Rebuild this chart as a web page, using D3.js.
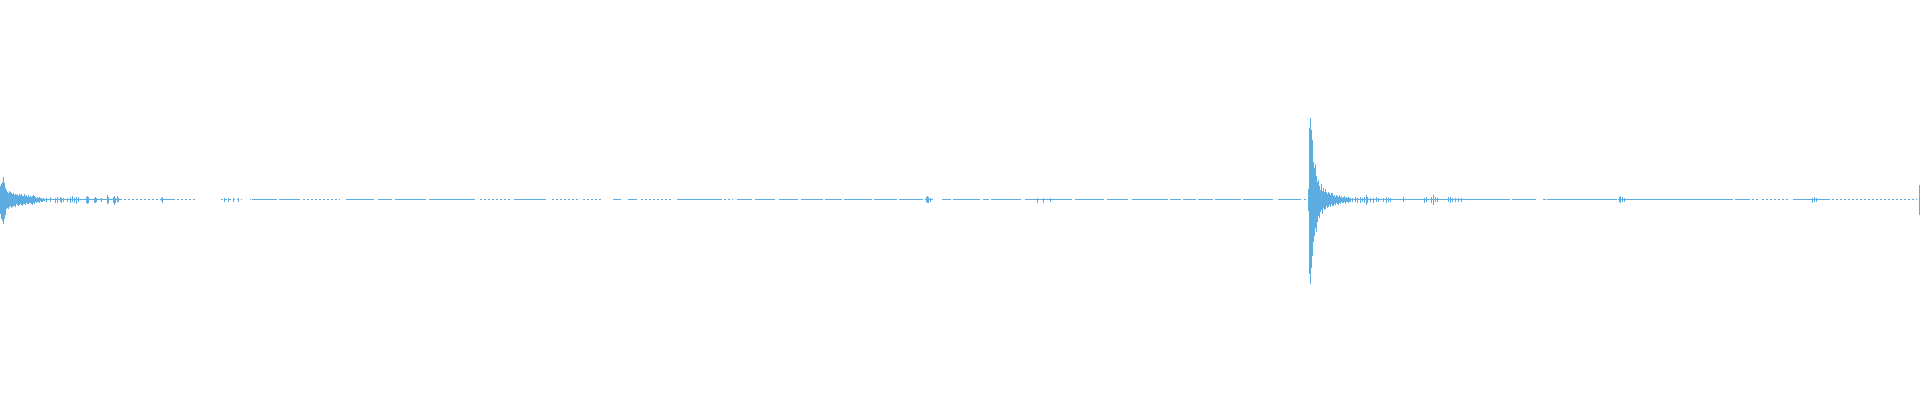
<!DOCTYPE html>
<html>
<head>
<meta charset="utf-8">
<script src="https://cdn.jsdelivr.net/npm/d3@7"></script>
<style>
html,body{margin:0;padding:0;background:#fff;}
svg{display:block;}
</style>
</head>
<body>
<svg id="chart" width="1920" height="400"></svg>
<script>
// ---- data (amplitude in % of full scale, per 1-px time bin) ----
const startA = 0;
const hiA = [7,8,9,11.5,8.5,6,5,4,3.5,4.5,4,3.5,3,3.5,2.5,3,2.5,3,2,3,2.5,3,2,2,3,2,2.5,1.5,2.5,1.5,2,1.5,2,2.5,2,1.5,1,1.5,1,1.5,1,1,0.5,1,0.5];
const loA = [7,9.5,10.5,12,9.5,7.5,4.5,4,4.5,3.5,3,4,3.5,3,3,3.5,2,2.5,3,2.5,2,2.5,3,2,2,2.5,1.5,2,2,1.5,1.5,2,2.5,1.5,2,1,1.5,1,1,1.5,0.5,1,1,0.5,0.5];

const startB = 1308;
const hiB = [5.5,36,41,35,30,19,16,18,12,9,10,7,5,8,4.5,6,4,5.5,4,3,4,3.5,2.5,3.5,3.5,2,2.5,1.5,2.5,2,1.5,2.5,1.5,2,1,1.5,2,1,1.5,1,1.5,1,1];
const loB = [5.5,37,42,34,28,21,18,14,16,11,8,9,6,5,7,4,5,4.5,3,4,3.5,2.5,3.5,2,3,3,2,2.5,1.5,2,2.5,1.5,2,1,1.5,1.5,1,2,1,1,1.5,1,1];

// isolated small peaks: [bin, high, low]
const blips = [
  [46,1,1],[50,1.5,1],[55,1,1.5],[57,1.5,1.5],[60,1.5,1],[61,1,1.5],[63,1,1],[67,1,1],[70,1.5,1.5],[72,2,1],[74,1,1.5],[76,1.5,2],[78,1.5,1],
  [86,1.5,1.5],[87,2,2],[88,1.5,1.5],[94,1,1.5],[95,1.5,1.5],[96,1,1],[101,1,1],[107,2.5,2],[108,1.5,1.5],[113,1.5,1.5],[114,2,2.5],[115,1,1.5],[117,2,1],[118,1,1],
  [161,1,0.5],[162,1.5,1.5],[224,1,1],[228,1,1],[233,1,1],[238,1,1],
  [926,1.5,1],[927,2,1.5],[928,1.5,1.5],[930,1,1],[1037,1,1.5],[1043,1,1.5],[1050,1,1],
  [1352,1,1],[1355,1.5,1],[1357,1,1.5],[1360,1.5,1.5],[1362,1,1],[1364,1.5,1.5],[1366,2.5,2.5],[1367,1.5,1.5],[1370,1,1],[1373,1,1.5],[1376,1.5,1],[1378,1,1],
  [1383,1,1],[1386,1.5,1.5],[1388,1,1],[1390,1,1],[1403,1.5,1],[1424,1,1.5],[1426,1.5,1],[1431,1.5,1.5],[1433,2.5,2.5],[1435,1.5,1],[1437,1,1],
  [1448,1.5,1],[1450,1.5,1.5],[1452,1,1],[1455,1,1],[1458,1,1],[1461,1,1],
  [1619,1.5,1],[1620,2,1.5],[1622,1.5,1],[1624,1,1],[1812,1,1.5],[1814,1.5,1],[1816,1,1],
  [1919,7.5,7.5]
];

// near-silent stretches drawn as the zero line: [fromBin, toBin, sparse(0/1)]
const silence = [
  [40,120,0],[120,162,1],[162,175,0],[177,195,1],[221,242,1],[250,251,0],[252,277,0],[279,300,0],[303,340,1],[346,374,0],
  [378,392,0],[395,426,0],[429,475,0],[480,512,1],[514,546,0],[552,579,1],[583,602,1],[613,621,0],[628,637,0],[641,671,1],
  [677,720,0],[720,733,1],[737,752,0],[755,775,0],[779,798,0],[801,823,0],[825,842,0],[844,872,0],[874,897,0],[899,923,0],
  [925,933,0],[942,951,0],[953,980,0],[983,989,0],[991,1021,0],[1025,1072,0],[1075,1104,0],[1107,1128,0],[1132,1168,0],
  [1170,1181,0],[1183,1196,0],[1198,1213,0],[1215,1241,0],[1243,1273,0],[1278,1301,0],[1304,1307,1],
  [1350,1510,0],[1512,1536,0],[1543,1546,0],[1547,1617,0],[1618,1733,0],[1735,1750,0],[1752,1760,1],[1762,1790,1],
  [1793,1828,0],[1828,1917,1]
];

const color = "#5dade2";
const W = 1920, H = 400;
const svg = d3.select("#chart");
const x = d3.scaleLinear().domain([0, 1920]).range([0, W]);
const y = d3.scaleLinear().domain([-100, 100]).range([399.5, -0.5]);

const cols = [];
hiA.forEach((h, i) => cols.push({bin: startA + i, hi: h, lo: loA[i]}));
hiB.forEach((h, i) => cols.push({bin: startB + i, hi: h, lo: loB[i]}));
blips.forEach(b => cols.push({bin: b[0], hi: b[1], lo: b[2]}));

const g = svg.append("g").attr("shape-rendering", "crispEdges");

g.selectAll("line.zero").data(silence).join("line")
  .attr("class", "zero")
  .attr("x1", d => x(d[0])).attr("x2", d => x(d[1]))
  .attr("y1", y(0)).attr("y2", y(0))
  .attr("stroke", color).attr("stroke-width", 1)
  .attr("stroke-dasharray", d => d[2] ? "2 2" : null);

g.selectAll("rect.col").data(cols).join("rect")
  .attr("class", "col")
  .attr("x", d => x(d.bin))
  .attr("width", d => Math.max(1, x(d.bin + 1) - x(d.bin)))
  .attr("y", d => y(d.hi))
  .attr("height", d => Math.max(1, y(-d.lo) - y(d.hi)))
  .attr("fill", color);
</script>
</body>
</html>
